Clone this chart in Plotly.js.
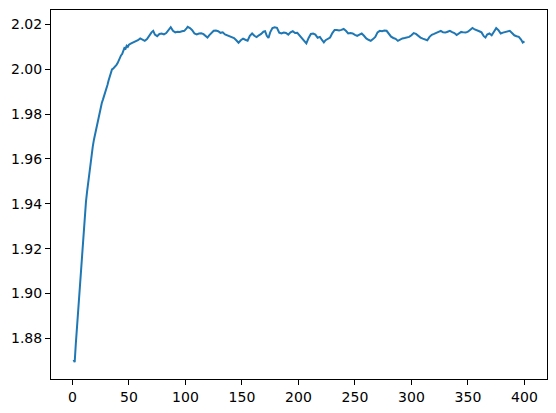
<!DOCTYPE html>
<html>
<head>
<meta charset="utf-8">
<script src="https://cdn.plot.ly/plotly-3.0.1.min.js"></script>
<style>
  html, body { margin: 0; padding: 0; background: #fff; }
  #chart { width: 556px; height: 413px; }
</style>
</head>
<body>
<div id="chart"></div>
<script>
// values
var steps = [
  1, 2, 3, 4, 5, 6, 7, 8, 9, 10,
  11, 12, 13, 14, 15, 16, 17, 18, 19, 20,
  21, 22, 23, 24, 25, 26, 27, 28, 29, 30,
  31, 32, 33, 34, 35, 36, 37, 38, 39, 40,
  41, 42, 43, 44, 45, 46, 47, 48, 49, 50,
  52, 54, 56, 58, 60, 62, 64, 66, 68, 70,
  71.5, 73, 75, 77, 79, 81, 83, 85, 87, 89,
  91, 93, 95, 97, 99, 101, 102, 104, 106, 108,
  110, 112, 114, 116, 118, 119.5, 121, 123, 125, 127,
  129, 131, 133, 135, 137, 139, 141, 143, 145, 147,
  149, 151, 153, 155, 157, 159, 161, 163, 165, 167,
  169, 170.5, 172, 173.5, 175, 177, 179, 181, 183, 185,
  187, 189, 191, 193, 195, 197, 199, 201, 203, 205,
  207, 209, 211, 213, 215, 217, 219, 221, 222.5, 224,
  226, 228, 230, 232, 234, 236, 238, 240, 242, 244,
  246, 248, 250, 252, 254, 256, 258, 260, 262, 264,
  266, 268, 270, 272, 274, 276, 278, 280, 282, 284,
  286, 288, 290, 292, 294, 296, 298, 300, 302, 304,
  306, 308, 310, 312, 314, 316, 318, 320, 322, 324,
  326, 328, 330, 332, 334, 336, 338, 340, 342, 344,
  346, 348, 350, 352, 354, 356, 358, 360, 362, 364,
  365.5, 367, 369, 371, 373, 375, 377, 379, 381, 383,
  385, 387, 389, 391, 393, 395, 397, 398.5, 400
]

var values = [
  1.8705, 1.8693, 1.8775, 1.8850, 1.8920, 1.8995, 1.9070, 1.9145, 1.9215, 1.9285,
  1.9350, 1.9410, 1.9455, 1.9500, 1.9545, 1.9580, 1.9615, 1.9655, 1.9685, 1.9710,
  1.9730, 1.9750, 1.9770, 1.9800, 1.9830, 1.9850, 1.9865, 1.9880, 1.9890, 1.9910,
  1.9930, 1.9950, 1.9965, 1.9990, 2.0000, 2.0003, 2.0008, 2.0015, 2.0020, 2.0028,
  2.0040, 2.0055, 2.0062, 2.0068, 2.0080, 2.0095, 2.0092, 2.0105, 2.0100, 2.0110,
  2.0116, 2.0120, 2.0125, 2.0130, 2.0138, 2.0132, 2.0127, 2.0135, 2.0152, 2.0165,
  2.0172, 2.0155, 2.0148, 2.0158, 2.0160, 2.0156, 2.0162, 2.0175, 2.0188, 2.0172,
  2.0165, 2.0168, 2.0167, 2.0170, 2.0172, 2.0183, 2.0190, 2.0184, 2.0175, 2.0160,
  2.0156, 2.0160, 2.0161, 2.0157, 2.0150, 2.0142, 2.0152, 2.0162, 2.0172, 2.0173,
  2.0170, 2.0163, 2.0165, 2.0156, 2.0152, 2.0145, 2.0143, 2.0140, 2.0130, 2.0119,
  2.0130, 2.0137, 2.0132, 2.0128, 2.0150, 2.0160, 2.0150, 2.0144, 2.0152, 2.0158,
  2.0168, 2.0170, 2.0150, 2.0140, 2.0165, 2.0184, 2.0188, 2.0185, 2.0164, 2.0160,
  2.0164, 2.0162, 2.0155, 2.0165, 2.0170, 2.0162, 2.0163, 2.0152, 2.0142, 2.0128,
  2.0116, 2.0140, 2.0158, 2.0160, 2.0155, 2.0141, 2.0145, 2.0130, 2.0120, 2.0130,
  2.0137, 2.0142, 2.0162, 2.0176, 2.0176, 2.0174, 2.0176, 2.0180, 2.0172, 2.0160,
  2.0162, 2.0160, 2.0154, 2.0149, 2.0155, 2.0160, 2.0150, 2.0138, 2.0132, 2.0127,
  2.0135, 2.0145, 2.0165, 2.0172, 2.0170, 2.0173, 2.0172, 2.0158, 2.0146, 2.0140,
  2.0136, 2.0127, 2.0133, 2.0138, 2.0140, 2.0142, 2.0145, 2.0152, 2.0162, 2.0158,
  2.0148, 2.0142, 2.0137, 2.0132, 2.0130, 2.0145, 2.0154, 2.0158, 2.0162, 2.0168,
  2.0172, 2.0165, 2.0164, 2.0168, 2.0172, 2.0166, 2.0162, 2.0153, 2.0160, 2.0167,
  2.0165, 2.0164, 2.0168, 2.0178, 2.0185, 2.0178, 2.0175, 2.0170, 2.0165, 2.0148,
  2.0142, 2.0155, 2.0160, 2.0152, 2.0168, 2.0184, 2.0175, 2.0160, 2.0164, 2.0167,
  2.0170, 2.0172, 2.0162, 2.0152, 2.0148, 2.0145, 2.0133, 2.0120, 2.0125
]

var xTicks = [0, 50, 100, 150, 200, 250, 300, 350, 400]
var yTicks = [1.88, 1.90, 1.92, 1.94, 1.96, 1.98, 2.00, 2.02]

function paddedRange(arr, frac) {
    var lo = Math.min.apply(null, arr)
    var hi = Math.max.apply(null, arr)
    var pad = (hi - lo) * frac
    return [lo - pad, hi + pad]
}

var trace = {
    x: steps,
    y: values,
    mode: "lines",
    line: { color: "#1f77b4", width: 2 },
    hoverinfo: "skip"
}

var axisBase = {
    showline: true,
    mirror: true,
    linecolor: "#000",
    linewidth: 1,
    showgrid: false,
    zeroline: false,
    ticks: "outside",
    ticklen: 5,
    tickwidth: 1,
    tickcolor: "#000",
    tickfont: { family: "DejaVu Sans", size: 14, color: "#000" }
}

var layout = {
    width: 556,
    height: 413,
    margin: { l: 51, r: 9, t: 10, b: 34 },
    paper_bgcolor: "#fff",
    plot_bgcolor: "#fff",
    showlegend: false,
    xaxis: Object.assign({}, axisBase, {
        range: [1 - 399 * 0.05, 400 + 399 * 0.05],
        tickmode: "array",
        tickvals: xTicks,
        ticktext: xTicks.map(String)
    }),
    yaxis: Object.assign({}, axisBase, {
        range: paddedRange(values, 0.05),
        tickmode: "array",
        tickvals: yTicks,
        ticktext: yTicks.map(function (v) { return v.toFixed(2) })
    })
}

Plotly.newPlot("chart", [trace], layout, { displayModeBar: false, staticPlot: true })
</script>
</body>
</html>
